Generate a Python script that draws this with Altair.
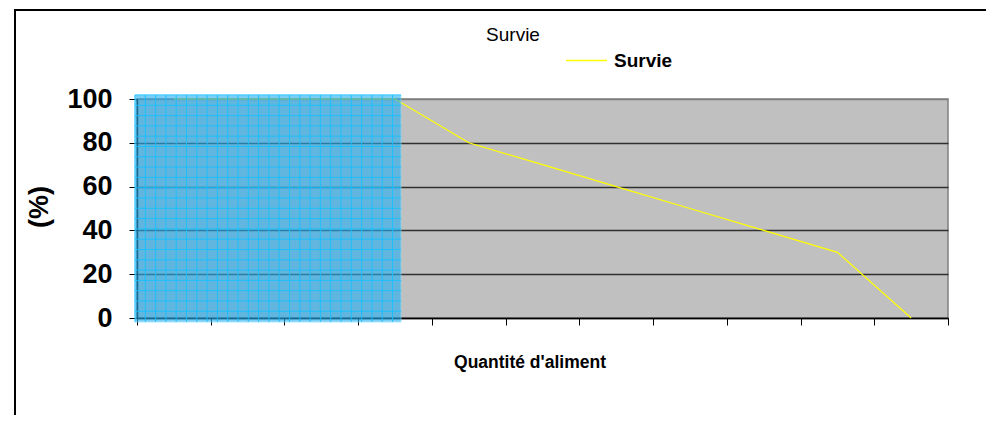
import altair as alt
import pandas as pd

# Data
categories = ["1", "2", "3", "4", "5", "6", "7", "8", "9", "10", "11"]
survie = [100, 100, 100, 100, 80, 70, 60, 50, 40, 30, 0]
series_name = "Survie"
y_ticks = [0, 20, 40, 60, 80, 100]

FONT = "Liberation Sans"
W, H = 811, 219

df = pd.DataFrame({"q": categories, "v": survie, "serie": [series_name] * len(categories)})

xscale = alt.Scale(type="band", paddingInner=0, paddingOuter=0, domain=categories)
yscale = alt.Scale(domain=[0, 100], nice=False)

grid_color = {"condition": {"test": "datum.value === 100", "value": "#808080"}, "value": "#303030"}

line = alt.Chart(df).mark_line(strokeWidth=1.2).encode(
    x=alt.X("q:O", sort=categories, scale=xscale, bandPosition=0.5,
            axis=alt.Axis(labels=False, tickBand="extent", tickSize=7, tickColor="black",
                          domainColor="black", domainWidth=1.5, grid=False,
                          title="Quantité d'aliment", titleFont=FONT, titleFontSize=17.5,
                          titleFontWeight="bold", titleColor="black",
                          titleBaseline="middle", titleY=44, titleX=W / 2 - 13)),
    y=alt.Y("v:Q", scale=yscale,
            axis=alt.Axis(values=y_ticks, labelFont=FONT, labelFontSize=27, labelFontWeight="bold",
                          labelColor="black", labelPadding=17, tickSize=8, tickColor="black",
                          domainColor="black", domainWidth=1.5, gridColor=grid_color, gridWidth=1.5,
                          title="(%)", titleFont=FONT, titleFontSize=27, titleFontWeight="bold",
                          titleColor="black", titleAngle=-90, titleX=-98, titleY=H / 2 - 2,
                          titleAlign="center", titleBaseline="middle")),
    color=alt.Color("serie:N", scale=alt.Scale(range=["#ffff00"]),
                    legend=alt.Legend(orient="none", legendX=428, legendY=-60, title=None,
                                      symbolType="stroke", symbolSize=1681, symbolStrokeWidth=1.5,
                                      labelFont=FONT, labelFontSize=19, labelFontWeight="bold",
                                      labelColor="black", labelOffset=6)),
)

# Selection-like blue overlay (decoration)
overlay = alt.Chart(pd.DataFrame({"a": [0]})).mark_rect(
    fill="#22b0f2", opacity=0.6, stroke="#70d8ff", strokeWidth=1
).encode(x=alt.value(-2), x2=alt.value(264), y=alt.value(-4), y2=alt.value(223))

vgrid = alt.Chart(alt.sequence(0, 26, as_="i")).transform_calculate(
    px="-2 + datum.i * 10.3"
).mark_rule(color="#18c0ff", opacity=0.9, strokeWidth=1).encode(
    x=alt.X("px:Q", scale=None, axis=None), y=alt.value(-4), y2=alt.value(223)
)
hgrid = alt.Chart(alt.sequence(0, 22, as_="i")).transform_calculate(
    py="-4 + datum.i * 10.3"
).mark_rule(color="#18c0ff", opacity=0.9, strokeWidth=1).encode(
    y=alt.Y("py:Q", scale=None, axis=None), x=alt.value(-2), x2=alt.value(264)
)

frame_left = alt.Chart(pd.DataFrame({"a": [0]})).mark_rule(color="black", strokeWidth=2).encode(
    x=alt.value(-122), y=alt.value(-89), y2=alt.value(420)
)
frame_top = alt.Chart(pd.DataFrame({"a": [0]})).mark_rule(color="black", strokeWidth=2).encode(
    x=alt.value(-123), x2=alt.value(900), y=alt.value(-89)
)

title = alt.Chart(pd.DataFrame({"a": [0]})).mark_text(
    text="Survie", font=FONT, fontSize=19, color="black", align="center", baseline="middle"
).encode(x=alt.value(376), y=alt.value(-64))

chart = alt.layer(frame_left, frame_top, title, line, overlay, vgrid, hgrid).resolve_scale(
    x="independent", y="independent"
).properties(
    width=W, height=H,
    autosize=alt.AutoSizeParams(type="none"),
    padding={"left": 129, "top": 91, "right": 38, "bottom": 97},
    background="white",
).configure_view(fill="#c0c0c0", stroke="#808080", strokeWidth=1.5)

chart.save("out.html", embed_options={"renderer": "svg", "actions": False})
